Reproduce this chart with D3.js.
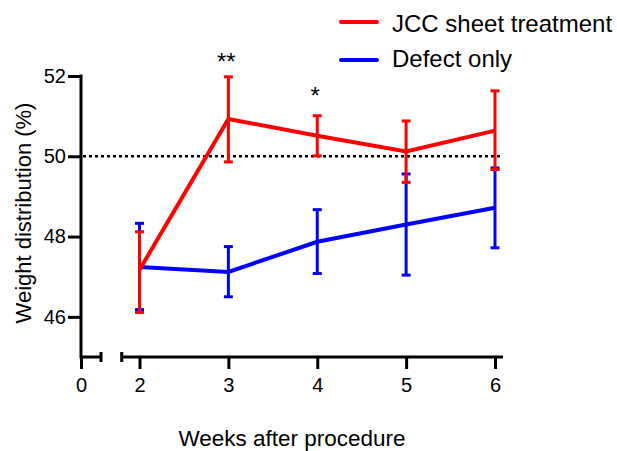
<!DOCTYPE html>
<html>
<head>
<meta charset="utf-8">
<script src="https://cdnjs.cloudflare.com/ajax/libs/d3/7.8.5/d3.min.js"></script>
<style>
  body { margin: 0; background: #fff; }
  text { font-family: "Liberation Sans", Arial, sans-serif; }
</style>
</head>
<body>
<div id="chart"></div>
<script>
// weeks after procedure
var weeks = [2, 3, 4, 5, 6];

// JCC sheet treatment: mean, upper, lower
var jccMean = [47.17, 50.93, 50.51, 50.12, 50.64];
var jccHigh = [48.12, 51.98, 51.01, 50.88, 51.63];
var jccLow  = [46.11, 49.86, 50.01, 49.35, 49.67];

// Defect only: mean, upper, lower
var defMean = [47.24, 47.12, 47.87, 48.30, 48.72];
var defHigh = [48.33, 47.75, 48.67, 49.56, 49.71];
var defLow  = [46.18, 46.50, 47.08, 47.04, 47.72];

var yTicks = [46, 48, 50, 52];
var xTicks = [2, 3, 4, 5, 6];
var stars = [{ week: 3, label: "**", value: 52.15 }, { week: 4, label: "*", value: 51.3 }];

var width = 617, height = 451;

var svg = d3.select("#chart").append("svg")
    .attr("width", width)
    .attr("height", height);

var y = d3.scaleLinear().domain([45, 52]).range([357, 76]);
// broken x axis: short segment for 0, main segment from 1.8 to 6.09
var x0 = d3.scaleLinear().domain([0, 0.25]).range([81, 101]);
var x = d3.scaleLinear().domain([2, 6]).range([139.5, 495]);

// reference line at 50%
svg.append("line")
    .attr("x1", 83).attr("x2", x(6.09))
    .attr("y1", y(50)).attr("y2", y(50))
    .attr("stroke", "#000")
    .attr("stroke-width", 2.4)
    .attr("stroke-dasharray", "3,3");

// y axis
var yAxis = svg.append("g")
    .attr("transform", "translate(81,0)")
    .call(d3.axisLeft(y).tickValues(yTicks).tickFormat(d3.format("d"))
        .tickSize(13).tickPadding(2).tickSizeOuter(0));
yAxis.select(".domain").attr("d", "M0," + (y(45) + 1.5) + "V" + (y(52) - 1.5));

// x axis, first segment
var xa0 = svg.append("g")
    .attr("transform", "translate(0,357)")
    .call(d3.axisBottom(x0).tickValues([0]).tickFormat(d3.format("d"))
        .tickSize(12).tickPadding(9).tickSizeOuter(0));
xa0.select(".domain").attr("d", "M81,0H101M101,-5V5");

// x axis, main segment
var xa = svg.append("g")
    .attr("transform", "translate(0,357)")
    .call(d3.axisBottom(x).tickValues(xTicks).tickFormat(d3.format("d"))
        .tickSize(12).tickPadding(9).tickSizeOuter(0));
xa.select(".domain").attr("d", "M" + x(1.8) + ",-5V5M" + x(1.8) + ",0H" + x(6.09));

svg.selectAll(".domain").attr("stroke-width", 3);
svg.selectAll(".tick line").attr("stroke-width", 3);
svg.selectAll(".tick text").attr("font-size", 20).attr("fill", "#000");

function drawSeries(mean, high, low, color) {
    var g = svg.append("g");
    var line = d3.line()
        .x(function(d, i) { return x(weeks[i]); })
        .y(function(d) { return y(d); });

    weeks.forEach(function(w, i) {
        var cx = x(w);
        g.append("line")
            .attr("x1", cx).attr("x2", cx)
            .attr("y1", y(high[i])).attr("y2", y(low[i]))
            .attr("stroke", color).attr("stroke-width", 3);
        [high[i], low[i]].forEach(function(v) {
            g.append("line")
                .attr("x1", cx - 4.5).attr("x2", cx + 4.5)
                .attr("y1", y(v)).attr("y2", y(v))
                .attr("stroke", color).attr("stroke-width", 3);
        });
    });

    g.append("path")
        .datum(mean)
        .attr("d", line)
        .attr("fill", "none")
        .attr("stroke", color)
        .attr("stroke-width", 4)
        .attr("stroke-linejoin", "miter");
}

drawSeries(defMean, defHigh, defLow, "#0000ff");
drawSeries(jccMean, jccHigh, jccLow, "#ff0000");

// significance marks
svg.selectAll(".star")
    .data(stars)
    .enter().append("text")
    .attr("class", "star")
    .attr("x", function(d) { return x(d.week) - 2; })
    .attr("y", function(d) { return y(d.value); })
    .attr("text-anchor", "middle")
    .attr("font-size", 24)
    .text(function(d) { return d.label; });

// axis titles
svg.append("text")
    .attr("x", 292).attr("y", 446)
    .attr("text-anchor", "middle")
    .attr("font-size", 22.5)
    .text("Weeks after procedure");

svg.append("text")
    .attr("transform", "translate(30.5,213) rotate(-90)")
    .attr("text-anchor", "middle")
    .attr("font-size", 22)
    .text("Weight distribution (%)");

// legend
var legend = [
    { label: "JCC sheet treatment", color: "#ff0000" },
    { label: "Defect only", color: "#0000ff" }
];
var lg = svg.selectAll(".legend")
    .data(legend)
    .enter().append("g")
    .attr("transform", function(d, i) { return "translate(0," + (22 + i * 38) + ")"; });
lg.append("line")
    .attr("x1", 341).attr("x2", 377)
    .attr("stroke", function(d) { return d.color; })
    .attr("stroke-width", 4)
    .attr("stroke-linecap", "round");
lg.append("text")
    .attr("x", 392).attr("y", function(d, i) { return i === 0 ? 9.5 : 7; })
    .attr("font-size", 24)
    .text(function(d) { return d.label; });
</script>
</body>
</html>
